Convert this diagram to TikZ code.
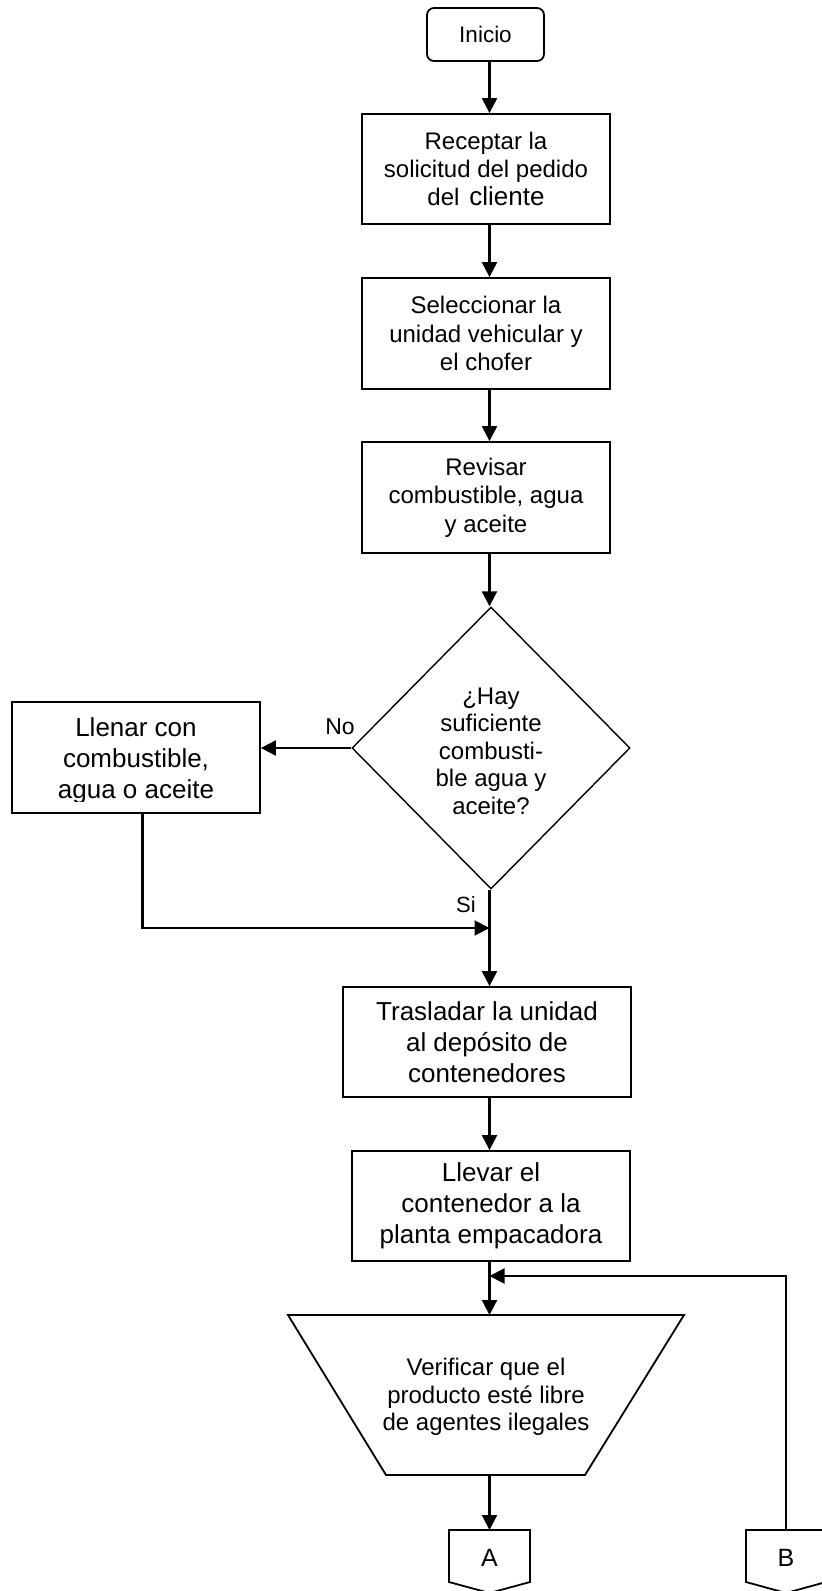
\documentclass[tikz,border=0pt]{standalone}
\usepackage{fontspec}
\setmainfont{Liberation Sans}
\usetikzlibrary{shapes.geometric,arrows.meta}
\begin{document}
\begin{tikzpicture}[x=1pt,y=-1pt,
  box/.style={draw,line width=1.8pt,align=center,inner sep=0pt},
  arr/.style={line width=2.2pt,-{Triangle[length=15pt,width=15pt]}},
  ln/.style={line width=2.2pt},
  fn/.style={font=\fontsize{24}{28.3}\selectfont},
  fb/.style={font=\fontsize{26}{31}\selectfont},
  fs/.style={font=\fontsize{24}{27.5}\selectfont},
  fl/.style={font=\fontsize{23}{27}\selectfont}]
\useasboundingbox (0,0) rectangle (822,1591);
\coordinate (spine) at (489.5,0);

% main column
\node[box,font=\fontsize{22.5}{26}\selectfont,rounded corners=7pt,minimum width=117pt,minimum height=53pt] (inicio) at (485.5,34.5) {Inicio};
\node[box,fn,minimum width=248pt,minimum height=110pt] (rec) at (486,169)
  {Receptar la\\solicitud del pedido\\del\hspace{10pt}{\fontsize{26}{28.3}\selectfont cliente}};
\node[box,fn,minimum width=248pt,minimum height=111pt] (sel) at (486,333.5)
  {Seleccionar la\\unidad vehicular y\\el chofer};
\node[box,fn,minimum width=248pt,minimum height=111pt] (rev) at (486,497.5)
  {Revisar\\combustible, agua\\y aceite};

% decision
\node[draw,diamond,line width=1.4pt,inner sep=0pt,minimum width=278pt,minimum height=282pt] (dec) at (491,748) {};
\begin{scope}
  \clip (400,650) rectangle (580,813);
  \node[fs,align=center] (dectxt) at (491,751) {¿Hay\\suficiente\\combusti-\\ble agua y\\aceite?};
\end{scope}

% refill branch
\node[box,minimum width=248pt,minimum height=111pt] (llen) at (136,757.5) {};
\begin{scope}
  \clip (14,704) rectangle (258,801);
  \node[fb,align=center] (llentxt) at (136,761) {Llenar con\\combustible,\\agua o aceite};
\end{scope}
\node[fl] (no) at (340,727) {No};
\node[font=\fontsize{22}{26}\selectfont] (si) at (466,905) {Si};

\node[box,fb,minimum width=288pt,minimum height=110pt] (tras) at (487,1042)
  {Trasladar la unidad\\al depósito de\\contenedores};
\node[box,fb,minimum width=278pt,minimum height=110pt] (llev) at (491,1206)
  {Llevar el\\contenedor a la\\planta empacadora};

% manual operation (trapezoid)
\coordinate (vtop) at (489.5,1315);
\coordinate (vbot) at (489.5,1475);
\draw[line width=1.8pt,line join=miter] (288,1315) -- (684,1315) -- (585,1475) -- (386,1475) -- cycle;
\node[fs,align=center] (ver) at (486,1397)
  {Verificar que el\\producto esté libre\\de agentes ilegales};

% off-page connectors
\coordinate (atop) at (489.5,1530);
\coordinate (btop) at (786,1530);
\draw[line width=1.8pt] (449,1530) -- (530,1530) -- (530,1582) -- (489.5,1593) -- (449,1582) -- cycle;
\draw[line width=1.8pt] (746,1530) -- (826,1530) -- (826,1582) -- (786,1593) -- (746,1582) -- cycle;
\node[font=\fontsize{25}{28}\selectfont] (A) at (489.5,1558) {A};
\node[font=\fontsize{25}{28}\selectfont] (B) at (786,1558) {B};

% junctions
\coordinate (sijoin) at (489.5,928);
\coordinate (loopjoin) at (489.5,1276);
\coordinate (llx) at (142.5,0);

% connectors
\draw[arr] (inicio.south -| spine) -- (rec.north -| spine);
\draw[arr] (rec.south -| spine) -- (sel.north -| spine);
\draw[arr] (sel.south -| spine) -- (rev.north -| spine);
\draw[arr] (rev.south -| spine) -- (dec.north -| spine);
\draw[arr] (dec.west) -- (llen.east |- dec.west);
\draw[ln] (dec.south -| spine) -- (sijoin);
\draw[arr] (llen.south -| llx) |- (sijoin);
\draw[arr] (sijoin) -- (tras.north -| spine);
\draw[arr] (tras.south -| spine) -- (llev.north -| spine);
\draw[arr] (llev.south -| spine) -- (vtop);
\draw[arr] (btop) |- (loopjoin);
\draw[arr] (vbot) -- (atop);
\end{tikzpicture}
\end{document}
